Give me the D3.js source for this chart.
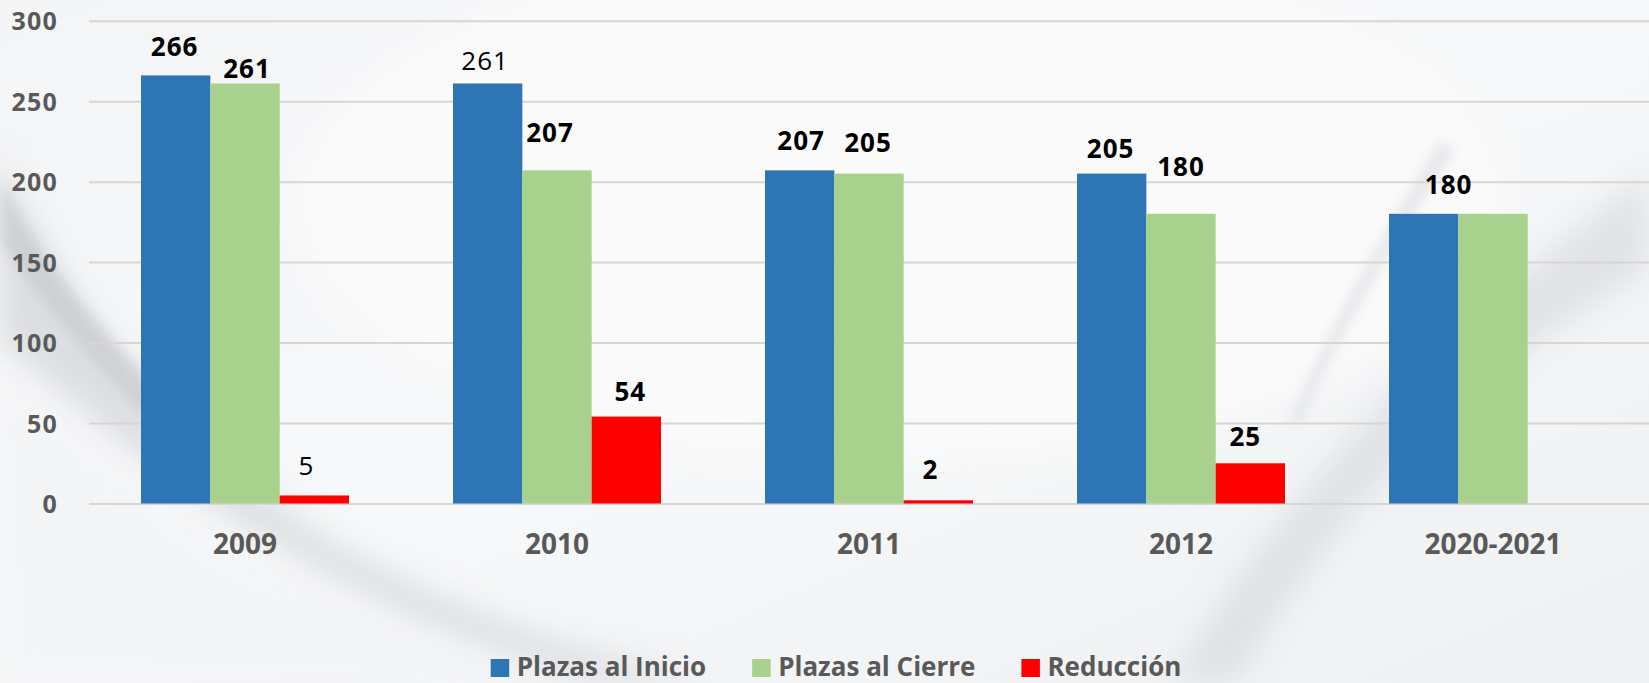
<!DOCTYPE html>
<html>
<head>
<meta charset="utf-8">
<script src="https://cdn.jsdelivr.net/npm/d3@7"></script>
<style>
  html, body { margin: 0; padding: 0; background: #ffffff; overflow: hidden; }
  svg { display: block; }
  text { font-family: "Open Sans", "Noto Sans", sans-serif; }
</style>
</head>
<body>
<svg id="chart" width="1649" height="683"></svg>
<script>
// ---------------- DATA ----------------
const categories = ["2009", "2010", "2011", "2012", "2020-2021"];
const seriesNames = ["Plazas al Inicio", "Plazas al Cierre", "Reducción"];
const plazasInicio = [266, 261, 207, 205, 180];
const plazasCierre = [261, 207, 205, 180, 180];
const reduccion = [5, 54, 2, 25, null];
const yTickValues = [0, 50, 100, 150, 200, 250, 300];

// ---------------- STYLE / LAYOUT (not data) ----------------
const W = 1649, H = 683;
const colors = ["#2E75B6", "#A9D18E", "#FF0000"];
// per-label nudges (as placed manually in the original): dx from bar centre, gap above bar top, weight
const labelStyle = [
  [{dx: -1, gap: 19, w: 700}, {dx: -2.5, gap: 13, w: 400}, {dx: 1.5, gap: 20, w: 700}, {dx: -1, gap: 16, w: 700}, {dx: 25, gap: 20, w: 700}],
  [{dx: 2, gap: 5, w: 700}, {dx: -7, gap: 28, w: 700}, {dx: -1, gap: 21.5, w: 700}, {dx: 0, gap: 37.5, w: 700}, null],
  [{dx: -8, gap: 20, w: 400}, {dx: 4, gap: 16, w: 700}, {dx: -8, gap: 21, w: 700}, {dx: -5, gap: 17, w: 700}, null]
];

const seriesValues = [plazasInicio, plazasCierre, reduccion];

const svg = d3.select("#chart");
const defs = svg.append("defs");

// ---------------- BACKGROUND (soft swirl texture approximation) ----------------
const blur = defs.append("filter").attr("id", "blur").attr("x", "-20%").attr("y", "-20%").attr("width", "140%").attr("height", "140%");
blur.append("feGaussianBlur").attr("stdDeviation", 16);
const blur2 = defs.append("filter").attr("id", "blur2").attr("x", "-20%").attr("y", "-20%").attr("width", "140%").attr("height", "140%");
blur2.append("feGaussianBlur").attr("stdDeviation", 6);

const bgGrad = defs.append("linearGradient").attr("id", "bgGrad").attr("x1", 0).attr("y1", 0).attr("x2", 1).attr("y2", 1);
bgGrad.append("stop").attr("offset", "0%").attr("stop-color", "#f4f5f7");
bgGrad.append("stop").attr("offset", "50%").attr("stop-color", "#f7f8f9");
bgGrad.append("stop").attr("offset", "100%").attr("stop-color", "#eef0f2");

const bg = svg.append("g").attr("class", "background");
bg.append("rect").attr("width", W).attr("height", H).attr("fill", "url(#bgGrad)");
bg.append("ellipse").attr("cx", 900).attr("cy", 200).attr("rx", 600).attr("ry", 260)
  .attr("fill", "#fbfbfc").attr("filter", "url(#blur)").attr("opacity", 0.9);
bg.append("path")
  .attr("d", "M0,150 C60,300 170,440 330,540 C450,612 600,662 720,683 L590,683 C420,640 210,530 0,340 Z")
  .attr("fill", "#c6c9ce").attr("opacity", 0.55).attr("filter", "url(#blur)");
bg.append("path")
  .attr("d", "M0,175 C40,260 100,330 170,400 L150,420 C90,360 40,300 0,240 Z")
  .attr("fill", "#b9bcc1").attr("opacity", 0.45).attr("filter", "url(#blur2)");
bg.append("path")
  .attr("d", "M0,380 C180,540 400,650 620,683 L0,683 Z")
  .attr("fill", "#f3f4f6").attr("opacity", 0.8).attr("filter", "url(#blur)");
bg.append("path")
  .attr("d", "M1649,170 C1460,320 1310,450 1170,683 L1235,683 C1350,490 1490,360 1649,270 Z")
  .attr("fill", "#cdd0d4").attr("opacity", 0.5).attr("filter", "url(#blur)");
bg.append("path")
  .attr("d", "M1440,140 C1400,210 1340,300 1290,420 L1300,425 C1350,310 1410,220 1455,150 Z")
  .attr("fill", "#d3d6da").attr("opacity", 0.5).attr("filter", "url(#blur2)");

// ---------------- SCALES ----------------
const x = d3.scaleBand().domain(categories).range([89, W]).paddingInner(1 / 3).paddingOuter(1 / 6);
const xs = d3.scaleBand().domain(seriesNames).range([0, x.bandwidth()]);
const y = d3.scaleLinear().domain([0, 300]).range([503.5, 20.7]);

// ---------------- Y AXIS + GRIDLINES ----------------
const yAxis = d3.axisLeft(y).tickValues(yTickValues).tickSize(-(W - 89)).tickPadding(31);
const gy = svg.append("g").attr("transform", "translate(89,0)").call(yAxis);
gy.select(".domain").remove();
gy.selectAll(".tick line").attr("stroke", "#d6d6d6").attr("stroke-width", 2);
gy.selectAll(".tick text")
  .attr("fill", "#595959").attr("font-size", 25).attr("font-weight", 700)
  .attr("letter-spacing", 1.2)
  .attr("dy", "0.36em").style("font-family", "'Open Sans', sans-serif");

// ---------------- X AXIS ----------------
const xAxis = d3.axisBottom(x).tickSize(0).tickPadding(31);
const gx = svg.append("g").attr("transform", `translate(0,${y(0)})`).call(xAxis);
gx.select(".domain").remove();
gx.selectAll(".tick text")
  .attr("fill", "#595959").attr("font-size", 28).attr("font-weight", 700)
  .style("font-family", "'Open Sans', sans-serif");

// ---------------- BARS ----------------
const barData = [];
categories.forEach((c, ci) => {
  seriesNames.forEach((s, si) => {
    const v = seriesValues[si][ci];
    if (v !== null && v !== undefined) barData.push({cat: c, ci, series: s, si, value: v});
  });
});

svg.append("g").attr("class", "bars")
  .selectAll("rect").data(barData).join("rect")
  .attr("x", d => x(d.cat) + xs(d.series))
  .attr("y", d => y(d.value))
  .attr("width", xs.bandwidth())
  .attr("height", d => y(0) - y(d.value))
  .attr("fill", d => colors[d.si]);

// ---------------- DATA LABELS ----------------
svg.append("g").attr("class", "labels")
  .selectAll("text").data(barData.filter(d => labelStyle[d.si][d.ci])).join("text")
  .attr("x", d => x(d.cat) + xs(d.series) + xs.bandwidth() / 2 + labelStyle[d.si][d.ci].dx)
  .attr("y", d => y(d.value) - labelStyle[d.si][d.ci].gap)
  .attr("text-anchor", "middle")
  .attr("font-size", 26)
  .attr("font-weight", d => labelStyle[d.si][d.ci].w)
  .attr("letter-spacing", 1)
  .attr("fill", "#000000")
  .text(d => d.value);

// ---------------- LEGEND ----------------
const legend = svg.append("g").attr("class", "legend");
let lx = 490.7;
const legendBaseline = 676;
seriesNames.forEach((name, i) => {
  legend.append("rect").attr("x", lx).attr("y", 659).attr("width", 18.5).attr("height", 18)
    .attr("fill", colors[i]);
  const t = legend.append("text").attr("x", lx + 26).attr("y", legendBaseline)
    .attr("font-size", 26).attr("font-weight", 700).attr("fill", "#595959").text(name);
  const tw = t.node().getComputedTextLength();
  lx = lx + 26 + tw + 46;
});
</script>
</body>
</html>
